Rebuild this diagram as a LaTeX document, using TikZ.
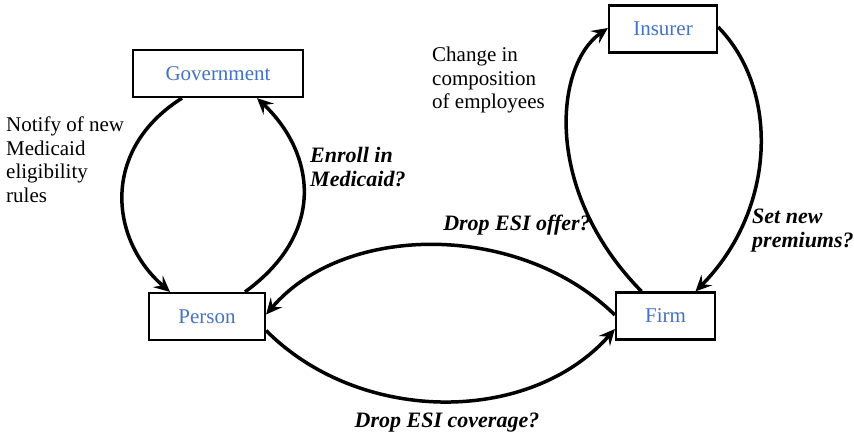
\documentclass[tikz,border=0pt]{standalone}
\usepackage{fontspec}
\setmainfont{Liberation Serif}
\usetikzlibrary{arrows.meta,calc}
\definecolor{nodeblue}{HTML}{4472C4}
\begin{document}
\begin{tikzpicture}[x=1pt,y=-1pt,
  box/.style={draw=black,line width=2.2pt,minimum height=47pt,text=nodeblue,
    font=\fontsize{21}{24}\selectfont,inner sep=0pt},
  flow/.style={line width=3.5pt,-{Stealth[length=16pt,width=15pt,inset=6pt]}},
  note/.style={font=\fontsize{21}{23.5}\selectfont,align=left,inner sep=0pt},
  ask/.style={font=\fontsize{22}{24}\selectfont\bfseries\itshape,align=left,inner sep=0pt}]
\useasboundingbox (0,0) rectangle (854,440);
\node[box,minimum width=170pt] (gov) at (218,73.5) {Government};
\node[box,minimum width=116pt] (per) at (207,316.5) {Person};
\node[box,minimum width=108pt] (ins) at (663,29) {Insurer};
\node[box,minimum width=99pt] (firm) at (665.5,316) {Firm};

\draw[flow] ($(gov.south)+(-36,0)$) .. controls (100,150) and (110,240) .. ($(per.north)+(-37,0)$);
\draw[flow] ($(per.north)+(38,0)$) .. controls (330,230) and (312,150) .. ($(gov.south)+(39,0)$);
\draw[flow] ($(firm.west)+(0,-1)$) .. controls (520,222) and (345,222) .. ($(per.east)+(0,-2)$);
\draw[flow] ($(per.east)+(0,14)$) .. controls (360,425) and (530,425) .. ($(firm.west)+(0,13)$);
\draw[flow] ($(firm.north)+(-24,0)$) .. controls (542,190) and (555,65) .. ($(ins.west)+(0,-1)$);
\draw[flow] ($(ins.east)+(0,-2)$) .. controls (780,90) and (776,210) .. ($(firm.north)+(30,0)$);

\node[note,anchor=north west] (notify) at (6,117) {Notify of new\\Medicaid\\eligibility\\rules};
\node[note,anchor=north west] (change) at (432,47) {Change in\\composition\\of employees};
\node[ask,anchor=north west] (enroll) at (310,147) {Enroll in\\Medicaid?};
\node[ask,anchor=base] (offer) at (517,230) {Drop ESI offer?};
\node[ask,anchor=north west] (prem) at (752,209) {Set new\\premiums?};
\node[ask,anchor=base] (cov) at (447,427) {Drop ESI coverage?};
\end{tikzpicture}
\end{document}
